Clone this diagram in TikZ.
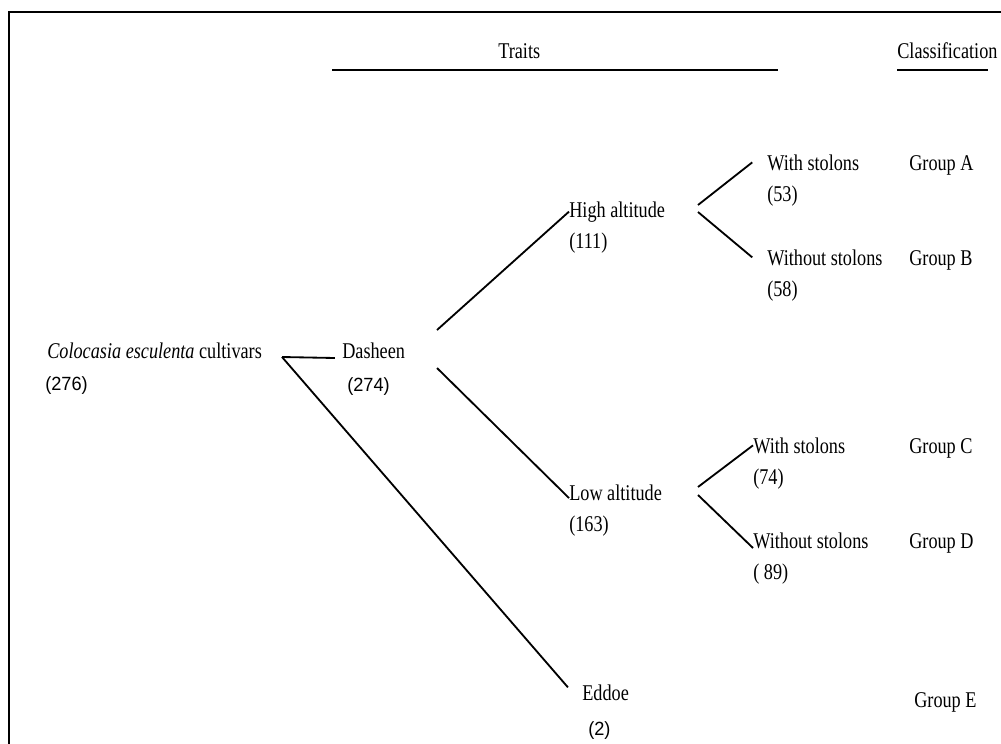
\documentclass[tikz,border=0pt]{standalone}
\usepackage{fontspec}
\setmainfont[FakeStretch=0.81]{Liberation Serif}
\newfontfamily\arialnum[FakeStretch=0.95]{Liberation Sans}
\usepackage{tikz}
\usetikzlibrary{positioning}
\tikzstyle{frame} = [line width=1.6pt]
\tikzstyle{headrule} = [draw, line width=1.5pt]
\tikzstyle{branch} = [draw, line width=1.3pt]
\tikzstyle{trait} = [inner sep=0pt, anchor=base west, font=\fontsize{16}{19}\selectfont]
\tikzstyle{tally} = [inner sep=0pt, anchor=base west, font=\arialnum\fontsize{13.6}{16}\selectfont]

\begin{document}
\begin{tikzpicture}[x=0.025cm, y=-0.025cm]
\useasboundingbox (0,0) rectangle (1001,744);
\draw[frame] (1001,12) -- (9,12) -- (9,744);

\node[trait] at (498,58) (traits) {Traits};
\node[trait] at (897,58) (classif) {Classification};
\path[headrule] (332,70) to (778,70);
\path[headrule] (897,70) to (988,70);

\node[trait] at (47,358) (cultivars) {\textit{Colocasia esculenta} cultivars};
\node[tally] at (45,390) (cultivarsn) {(276)};
\node[trait] at (342,358) (dasheen) {Dasheen};
\node[tally] at (347,391) (dasheenn) {(274)};
\node[trait] at (582,700) (eddoe) {Eddoe};
\node[tally] at (588,735) (eddoen) {(2)};

\node[trait] at (569,217) (high) {High altitude};
\node[trait] at (569,248) (highn) {(111)};
\node[trait] at (569,500) (low) {Low altitude};
\node[trait] at (569,531) (lown) {(163)};

\node[trait] at (767,170) (highwith) {With stolons};
\node[trait] at (767,201) (highwithn) {(53)};
\node[trait] at (767,265) (highwithout) {Without stolons};
\node[trait] at (767,296) (highwithoutn) {(58)};
\node[trait] at (753,453) (lowwith) {With stolons};
\node[trait] at (753,484) (lowwithn) {(74)};
\node[trait] at (753,548) (lowwithout) {Without stolons};
\node[trait] at (753,579) (lowwithoutn) {( 89)};

\node[trait] at (909,170) (groupa) {Group A};
\node[trait] at (909,265) (groupb) {Group B};
\node[trait] at (909,453) (groupc) {Group C};
\node[trait] at (909,548) (groupd) {Group D};
\node[trait] at (914,707) (groupe) {Group E};

\coordinate (rootfork) at (282,357);
\coordinate (dashup) at (437,330);
\coordinate (dashdown) at (437,368);
\coordinate (highup) at (698,205);
\coordinate (highdown) at (698,212);
\coordinate (lowup) at (698,487);
\coordinate (lowdown) at (698,495);

\path[branch] (rootfork) to ([xshift=-5pt]dasheen.base west);
\path[branch] (rootfork) to ([xshift=-10pt,yshift=9pt]eddoe.base west);
\path[branch] (dashup) to (high.west);
\path[branch] (dashdown) to ([yshift=1.4pt]low.base west);
\path[branch] (highup) to ([xshift=-10.5pt]highwith.west);
\path[branch] (highdown) to ([xshift=-10.5pt]highwithout.west);
\path[branch] (lowup) to (lowwith.west);
\path[branch] (lowdown) to (lowwithout.base west);
\end{tikzpicture}
\end{document}
